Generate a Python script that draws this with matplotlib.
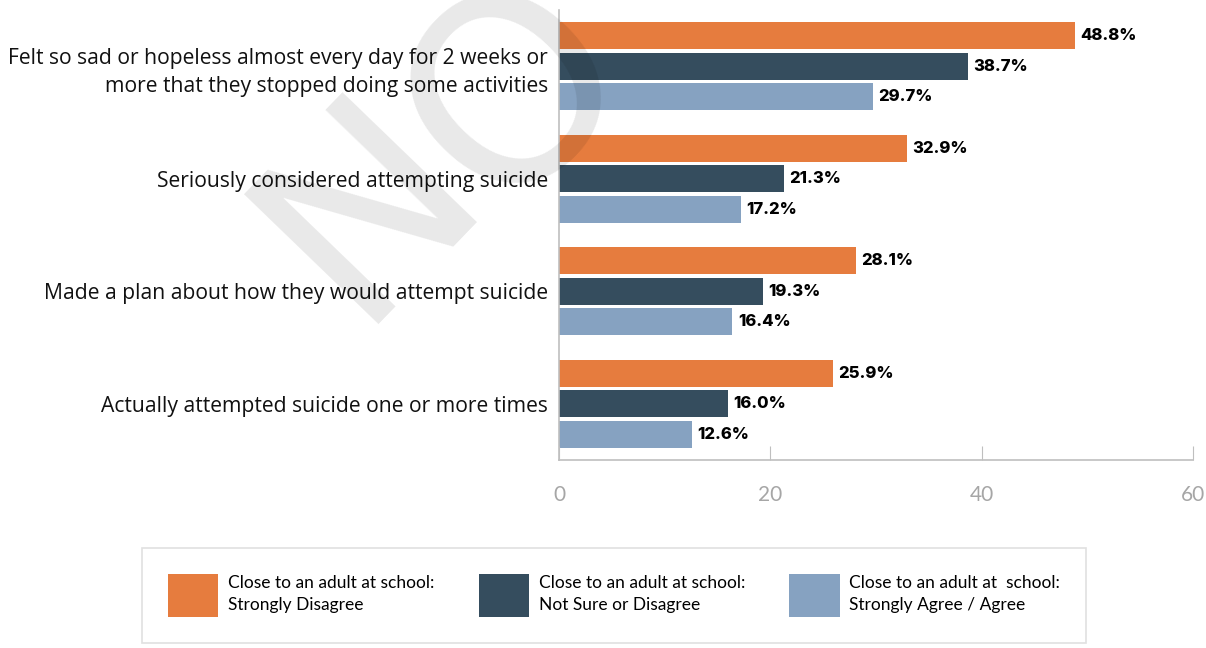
import numpy as np
import matplotlib.pyplot as plt
from matplotlib.patches import Patch

# survey items (top to bottom)
questions = [
    "Felt so sad or hopeless almost every day for 2 weeks or\nmore that they stopped doing some activities",
    "Seriously considered attempting suicide",
    "Made a plan about how they would attempt suicide",
    "Actually attempted suicide one or more times",
]

# percent of students, by how close they feel to an adult at school
strongly_disagree = [48.8, 32.9, 28.1, 25.9]
not_sure_disagree = [38.7, 21.3, 19.3, 16.0]
agree = [29.7, 17.2, 16.4, 12.6]

series_names = [
    "Close to an adult at school:\nStrongly Disagree",
    "Close to an adult at school:\nNot Sure or Disagree",
    "Close to an adult at  school:\nStrongly Agree / Agree",
]
colors = ["#E67C3E", "#354D5E", "#86A2C1"]
xticks = [0, 20, 40, 60]

W, H = 1206, 648
fig = plt.figure(figsize=(W / 100, H / 100), dpi=100)
ax = fig.add_axes([559 / W, 1 - 460 / H, (1193 - 559) / W, 450 / H])

y = np.arange(len(questions))
bar_h = 0.24
offsets = [-0.271, 0.0, 0.271]

handles = []
for vals, off, c, name in zip([strongly_disagree, not_sure_disagree, agree],
                              offsets, colors, series_names):
    bars = ax.barh(y + off, vals, height=bar_h, color=c, label=name)
    ax.bar_label(bars, labels=[f"{v:.1f}%" for v in vals], padding=4,
                 fontsize=12, fontweight="heavy", family="Inter")
    handles.append(Patch(facecolor=c, label=name))

ax.set_xlim(0, 60)
ax.set_ylim(len(questions) - 0.5, -0.5)
ax.set_xticks(xticks)
ax.set_yticks(y, questions, fontsize=15.2, family="Open Sans", color="#111111")
for lbl in ax.get_yticklabels():
    lbl.set_linespacing(1.45)
ax.tick_params(axis="y", length=0, pad=8)
ax.tick_params(axis="x", direction="in", length=10, color="#bfbfbf",
               labelcolor="#a6a6a6", labelsize=15, pad=18)
for lbl in ax.get_xticklabels():
    lbl.set_family("Lato")

for s in ["top", "right"]:
    ax.spines[s].set_visible(False)
for s in ["left", "bottom"]:
    ax.spines[s].set_color("#bfbfbf")
    ax.spines[s].set_linewidth(1.2)

leg = ax.legend(handles=handles, loc="upper left",
                bbox_to_anchor=(142 / W, 1 - 548 / H, (1086 - 142) / W, 0),
                bbox_transform=fig.transFigure, mode="expand", ncol=3,
                frameon=True, fancybox=False, edgecolor="#d9d9d9",
                handlelength=2.9, handleheight=3.43, handletextpad=0.55,
                borderpad=1.5, borderaxespad=0,
                prop={"family": "Lato", "size": 12.5})
leg.get_frame().set_linewidth(1.2)
for t in leg.get_texts():
    t.set_linespacing(1.4)

# faint watermark over the plot, one letter at a time
wm = dict(fontsize=185, rotation=46, rotation_mode="anchor",
          color="black", alpha=0.09, zorder=10)
fig.text(354 / W, 1 - 324 / H, "N", ha="left", va="baseline", **wm)
fig.text(518 / W, 1 - 93 / H, "O", ha="center", va="center", **wm)

fig.savefig("out.png", dpi=100)
